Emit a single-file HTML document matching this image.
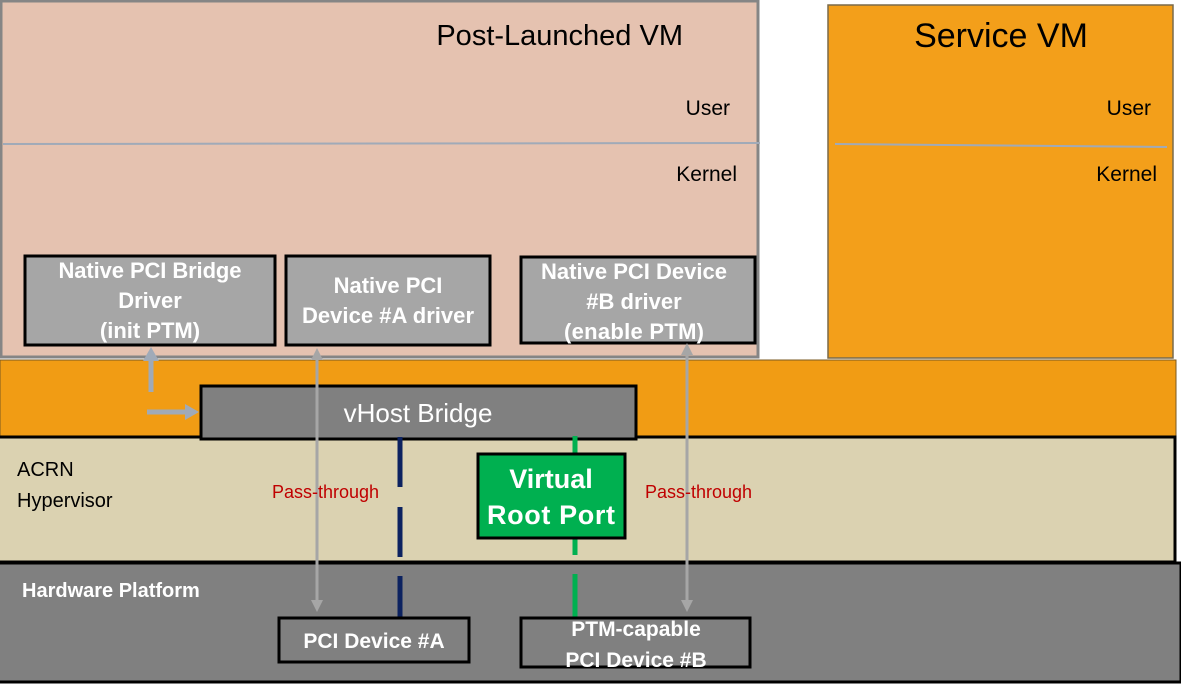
<!DOCTYPE html>
<html><head><meta charset="utf-8"><style>
html,body{margin:0;padding:0;background:#fff;}
svg{display:block;}
text{font-family:"Liberation Sans",sans-serif;}
.w{fill:#fff;}
</style></head><body>
<svg width="1181" height="684" viewBox="0 0 1181 684" xmlns="http://www.w3.org/2000/svg">
<defs>
<marker id="ag" markerWidth="12" markerHeight="12" refX="6" refY="6" orient="auto-start-reverse" markerUnits="userSpaceOnUse"><path d="M0,0 L12,6 L0,12 z" fill="#a6a6a6"/></marker>
<marker id="ab" markerWidth="14" markerHeight="16" refX="6" refY="8" orient="auto" markerUnits="userSpaceOnUse"><path d="M0,0 L14,8 L0,16 z" fill="#a0aab8"/></marker>
</defs>
<rect x="1" y="1" width="757" height="356" fill="#e5c2b0" stroke="#858585" stroke-width="3"/>
<text x="683" y="45" font-size="29" text-anchor="end">Post-Launched VM</text>
<text x="730" y="115" font-size="21" text-anchor="end">User</text>
<line x1="3" y1="144" x2="760" y2="143" stroke="#a0aab8" stroke-width="2"/>
<text x="737" y="181" font-size="21" text-anchor="end">Kernel</text>
<rect x="828" y="5" width="345" height="353" fill="#f39f1a" stroke="#7a6a4a" stroke-width="1.5"/>
<text x="1001" y="47" font-size="34" text-anchor="middle">Service VM</text>
<text x="1151" y="115" font-size="21" text-anchor="end">User</text>
<line x1="835" y1="144" x2="1167" y2="147" stroke="#a0aab8" stroke-width="2"/>
<text x="1157" y="181" font-size="21" text-anchor="end">Kernel</text>
<rect x="0" y="360" width="1176" height="77" fill="#f19c14" stroke="#7a5a20" stroke-width="1"/>
<rect x="-2" y="437" width="1177" height="125" fill="#dbd2b1" stroke="#000" stroke-width="3"/>
<text x="17" y="476" font-size="20">ACRN</text>
<text x="17" y="507" font-size="20">Hypervisor</text>
<rect x="-2" y="563" width="1183" height="119" fill="#808080" stroke="#000" stroke-width="3"/>
<text x="22" y="597" font-size="20" font-weight="bold" class="w">Hardware Platform</text>
<rect x="25" y="256" width="250" height="89" fill="#a6a6a6" stroke="#000" stroke-width="3"/>
<text x="150" y="278" font-size="22" font-weight="bold" class="w" text-anchor="middle" textLength="183">Native PCI Bridge</text>
<text x="150" y="308" font-size="22" font-weight="bold" class="w" text-anchor="middle">Driver</text>
<text x="150" y="338" font-size="22" font-weight="bold" class="w" text-anchor="middle">(init PTM)</text>
<rect x="286" y="256" width="204" height="89" fill="#a6a6a6" stroke="#000" stroke-width="3"/>
<text x="388" y="293" font-size="22" font-weight="bold" class="w" text-anchor="middle">Native PCI</text>
<text x="388" y="323" font-size="22" font-weight="bold" class="w" text-anchor="middle" textLength="172">Device #A driver</text>
<rect x="521" y="257" width="234" height="86" fill="#a6a6a6" stroke="#000" stroke-width="3"/>
<text x="634" y="279" font-size="22" font-weight="bold" class="w" text-anchor="middle" textLength="186">Native PCI Device</text>
<text x="634" y="309" font-size="22" font-weight="bold" class="w" text-anchor="middle">#B driver</text>
<text x="634" y="339" font-size="22" font-weight="bold" class="w" text-anchor="middle" textLength="140">(enable PTM)</text>
<rect x="201" y="386" width="435" height="53" fill="#808080" stroke="#000" stroke-width="3"/>
<text x="418" y="422" font-size="26" class="w" text-anchor="middle">vHost Bridge</text>
<g stroke="#0c2260" stroke-width="5">
<line x1="400" y1="437" x2="400" y2="487"/><line x1="400" y1="507" x2="400" y2="557"/><line x1="400" y1="576" x2="400" y2="618"/>
</g>
<g stroke="#00b050" stroke-width="5">
<line x1="575" y1="436" x2="575" y2="455"/><line x1="575" y1="538" x2="575" y2="555"/><line x1="575" y1="574" x2="575" y2="617"/>
</g>
<rect x="478" y="454" width="147" height="84" fill="#00b050" stroke="#000" stroke-width="3"/>
<text x="551" y="488" font-size="27" font-weight="bold" class="w" text-anchor="middle">Virtual</text>
<text x="551" y="524" font-size="27" font-weight="bold" class="w" text-anchor="middle" textLength="128">Root Port</text>
<rect x="279" y="618" width="190" height="44" fill="#808080" stroke="#000" stroke-width="3"/>
<text x="374" y="648" font-size="21" font-weight="bold" class="w" text-anchor="middle">PCI Device #A</text>
<rect x="521" y="618" width="229" height="49" fill="#808080" stroke="#000" stroke-width="3"/>
<text x="636" y="636" font-size="21" font-weight="bold" class="w" text-anchor="middle">PTM-capable</text>
<text x="636" y="667" font-size="21" font-weight="bold" class="w" text-anchor="middle">PCI Device #B</text>
<line x1="317" y1="354" x2="317" y2="606" stroke="#a6a6a6" stroke-width="3" marker-start="url(#ag)" marker-end="url(#ag)"/>
<line x1="687" y1="349" x2="687" y2="606" stroke="#a6a6a6" stroke-width="3" marker-start="url(#ag)" marker-end="url(#ag)"/>
<text x="272" y="498" font-size="18" fill="#c00000">Pass-through</text>
<text x="645" y="498" font-size="18" fill="#c00000">Pass-through</text>
<line x1="151" y1="392" x2="151" y2="355" stroke="#a0aab8" stroke-width="5" marker-end="url(#ab)"/>
<line x1="147" y1="412" x2="191" y2="412" stroke="#a0aab8" stroke-width="5" marker-end="url(#ab)"/>
</svg>
</body></html>
